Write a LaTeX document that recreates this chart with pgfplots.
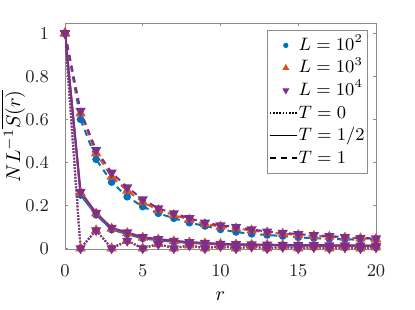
\documentclass[border=0pt]{standalone}
\usepackage{pgfplots}
\usepackage{pgfplotstable}
\pgfplotsset{compat=1.18}
\definecolor{c1}{rgb}{0,0.447,0.741}
\definecolor{c2}{rgb}{0.85,0.325,0.098}
\definecolor{c3}{rgb}{0.494,0.184,0.556}
\definecolor{axgray}{rgb}{0.15,0.15,0.15}
\pgfplotsset{
 markleg/.style={legend image code/.code={\pgfpathrectangle{\pgfpoint{0pt}{-2pt}}{\pgfpoint{13.5pt}{4pt}}\pgfusepath{discard}\draw[##1] plot coordinates {(8pt,0pt)};}},
 lineleg/.style={legend image code/.code={\pgfpathrectangle{\pgfpoint{0pt}{-2pt}}{\pgfpoint{13.5pt}{4pt}}\pgfusepath{discard}\draw[##1] (0pt,0pt) -- (13.5pt,0pt);}},
 dotS/.style={dash pattern=on 0.8pt off 0.8pt},
 dashS/.style={dash pattern=on 3pt off 2.5pt},
}
% columns: aX = L=10^2, bX = L=10^3, cX = L=10^4 ; X: 0 -> T=0, h -> T=1/2, 1 -> T=1
\pgfplotstableread{
r  a0    ah    a1    b0    bh    b1    c0    ch    c1
0  1     1     1     1     1     1     1     1     1
1  0     0.248 0.600 0     0.258 0.628 0     0.263 0.639
2  0.084 0.156 0.414 0.084 0.162 0.442 0.084 0.165 0.457
3  0     0.087 0.308 0     0.092 0.333 0     0.095 0.352
4  0.035 0.066 0.240 0.035 0.071 0.268 0.035 0.074 0.284
5  0     0.046 0.194 0     0.050 0.215 0     0.052 0.228
6  0.020 0.037 0.163 0.020 0.041 0.178 0.020 0.043 0.186
7  0     0.030 0.140 0     0.033 0.155 0     0.035 0.163
8  0.014 0.025 0.119 0.014 0.027 0.133 0.014 0.029 0.140
9  0     0.021 0.104 0     0.023 0.113 0     0.025 0.119
10 0.010 0.018 0.088 0.010 0.020 0.101 0.010 0.021 0.107
11 0     0.016 0.076 0     0.018 0.093 0     0.019 0.099
12 0.008 0.015 0.067 0.008 0.017 0.083 0.008 0.018 0.088
13 0     0.014 0.062 0     0.016 0.074 0     0.017 0.078
14 0.006 0.013 0.057 0.006 0.015 0.068 0.006 0.016 0.072
15 0     0.012 0.051 0     0.014 0.062 0     0.015 0.066
16 0.005 0.012 0.047 0.005 0.014 0.058 0.005 0.015 0.061
17 0     0.011 0.044 0     0.013 0.054 0     0.014 0.057
18 0.004 0.011 0.042 0.004 0.013 0.050 0.004 0.014 0.052
19 0     0.010 0.040 0     0.012 0.046 0     0.013 0.048
20 0.004 0.010 0.040 0.004 0.012 0.044 0.004 0.013 0.046
}\data
\begin{document}
\begin{tikzpicture}
\begin{axis}[
 scale only axis, width=155.5pt, height=113.2pt,
 xmin=0, xmax=20, ymin=-0.005, ymax=1.048,
 xtick={0,5,10,15,20}, ytick={0,0.2,0.4,0.6,0.8,1},
 tick align=inside, major tick length=1.5pt,
 axis line style={black!45}, tick style={black!45, line width=0.4pt},
 font=\fontsize{9}{11}\selectfont,
 ticklabel style={text=axgray},
 xticklabel style={yshift=-4pt},
 yticklabel style={xshift=-4.5pt},
 xlabel={$r$}, ylabel={$NL^{-1}\overline{S(r)}$},
 xlabel style={at={(axis description cs:0.5,-0.208)}, anchor=center, font=\fontsize{10}{12}\selectfont},
 ylabel style={at={(axis description cs:-0.167,0.5)}, anchor=center, font=\fontsize{10}{12}\selectfont},
 legend style={at={(0.974,0.969)}, anchor=north east, draw=black!45, fill=white,
   font=\fontsize{9}{11}\selectfont, inner xsep=1pt, inner ysep=2pt, row sep=0.27pt,
   nodes={inner xsep=0.5pt, inner ysep=1pt, text height=7pt, text depth=2pt}},
 legend cell align=left,
]
% L = 10^2
\addplot[forget plot, c1, line width=1pt, dotS, mark=*, mark size=1.4pt, mark options={solid}] table[x=r,y=a0] {\data};
\addplot[forget plot, c1, line width=1pt, solid, mark=*, mark size=1.4pt, mark options={solid}] table[x=r,y=ah] {\data};
\addplot[forget plot, c1, line width=1pt, dashS, mark=*, mark size=1.4pt, mark options={solid}] table[x=r,y=a1] {\data};
% L = 10^3
\addplot[forget plot, c2, line width=1pt, dotS, mark=triangle*, mark size=2pt, mark options={solid}] table[x=r,y=b0] {\data};
\addplot[forget plot, c2, line width=1pt, solid, mark=triangle*, mark size=2pt, mark options={solid}] table[x=r,y=bh] {\data};
\addplot[forget plot, c2, line width=1pt, dashS, mark=triangle*, mark size=2pt, mark options={solid}] table[x=r,y=b1] {\data};
% L = 10^4
\addplot[forget plot, c3, line width=1pt, dotS, mark=triangle*, mark size=2pt, mark options={solid, rotate=180}] table[x=r,y=c0] {\data};
\addplot[forget plot, c3, line width=1pt, solid, mark=triangle*, mark size=2pt, mark options={solid, rotate=180}] table[x=r,y=ch] {\data};
\addplot[forget plot, c3, line width=1pt, dashS, mark=triangle*, mark size=2pt, mark options={solid, rotate=180}] table[x=r,y=c1] {\data};
% legend
\addlegendimage{only marks, mark=*, c1, mark size=1.1pt, markleg}
\addlegendimage{only marks, mark=triangle*, c2, mark size=1.6pt, markleg}
\addlegendimage{only marks, mark=triangle*, c3, mark size=1.6pt, mark options={rotate=180}, markleg}
\addlegendimage{black, line width=0.7pt, dotS, lineleg}
\addlegendimage{black, line width=0.9pt, solid, lineleg}
\addlegendimage{black, line width=0.9pt, dashS, lineleg}
\legend{$L=10^2$, $L=10^3$, $L=10^4$, $T=0$, $T=1/2$, $T=1$}
\end{axis}
\pgfresetboundingbox
\path[use as bounding box] ([xshift=-32.5pt,yshift=-29.85pt]current axis.south west) rectangle ([xshift=19.5pt,yshift=11.5pt]current axis.north east);
\end{tikzpicture}
\end{document}
